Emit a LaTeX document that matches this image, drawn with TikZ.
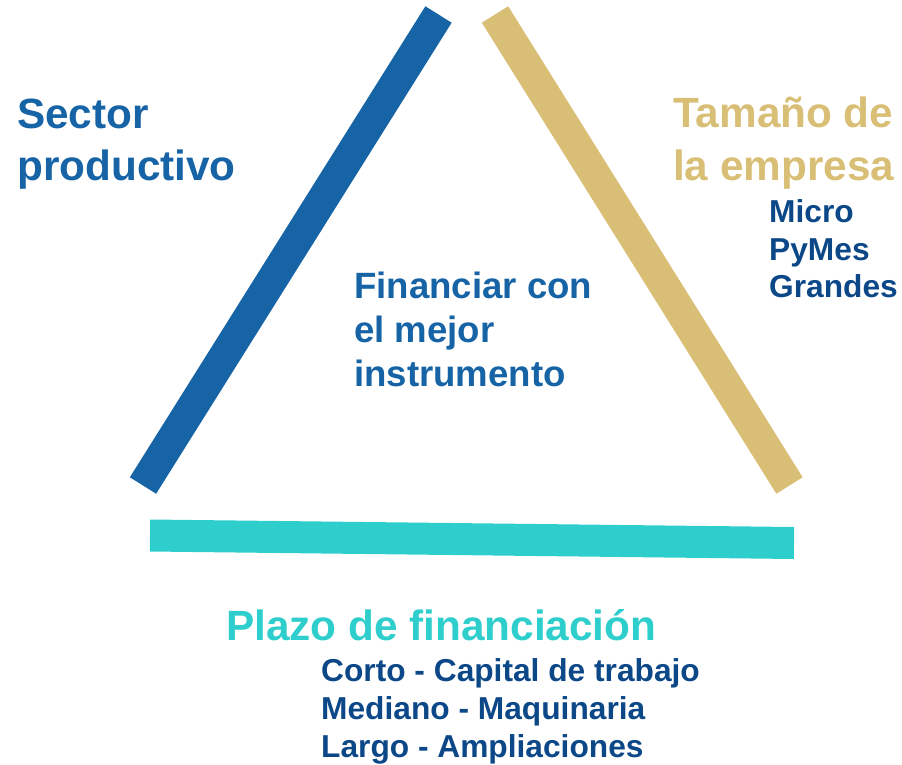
\documentclass[tikz,border=0pt]{standalone}
\usepackage{fontspec}
\setmainfont{Liberation Sans}
\definecolor{barblue}{RGB}{22,100,166}
\definecolor{bargold}{RGB}{217,190,117}
\definecolor{barteal}{RGB}{46,206,204}
\definecolor{navy}{RGB}{12,72,136}
\tikzset{
  bar/.style={line width=31pt, line cap=butt},
  big/.style={inner sep=0pt, anchor=base west, font=\bfseries\fontsize{42.3}{50}\selectfont},
  mid/.style={inner sep=0pt, anchor=base west, font=\bfseries\fontsize{36.6}{42}\selectfont, text=barblue},
  small/.style={inner sep=0pt, anchor=base west, font=\bfseries\fontsize{31.7}{37}\selectfont, text=navy}
}
\begin{document}
\begin{tikzpicture}[x=1pt,y=-1pt]
\useasboundingbox (0,0) rectangle (902,765);
% bars
\coordinate (bt) at (438.5,14.5);
\coordinate (bb) at (143,485.5);
\coordinate (gt) at (495,14.5);
\coordinate (gb) at (789.5,485.5);
\coordinate (tl) at (150,535.5);
\coordinate (tr) at (794,543);
\draw[bar, barblue] (bt) -- (bb);
\draw[bar, bargold] (gt) -- (gb);
\draw[bar, barteal, line width=32pt] (tl) -- (tr);
% Sector productivo
\node[big, text=barblue] (s1) at (17,129) {Sector};
\node[big, text=barblue] (s2) at (17,180) {productivo};
% Tamano de la empresa
\node[big, text=bargold] (t1) at (673,128) {Tamaño de};
\node[big, text=bargold] (t2) at (673,180) {la empresa};
\node[small] (m1) at (769,222) {Micro};
\node[small] (m2) at (769,260) {PyMes};
\node[small] (m3) at (769,297) {Grandes};
% center
\node[mid] (c1) at (354,298) {Financiar con};
\node[mid] (c2) at (354,342) {el mejor};
\node[mid] (c3) at (354,386) {instrumento};
% Plazo
\node[big, text=barteal] (p1) at (226,640) {Plazo de financiación};
\node[small] (p2) at (321,681) {Corto - Capital de trabajo};
\node[small] (p3) at (321,719) {Mediano - Maquinaria};
\node[small] (p4) at (321,757) {Largo - Ampliaciones};
\end{tikzpicture}
\end{document}
